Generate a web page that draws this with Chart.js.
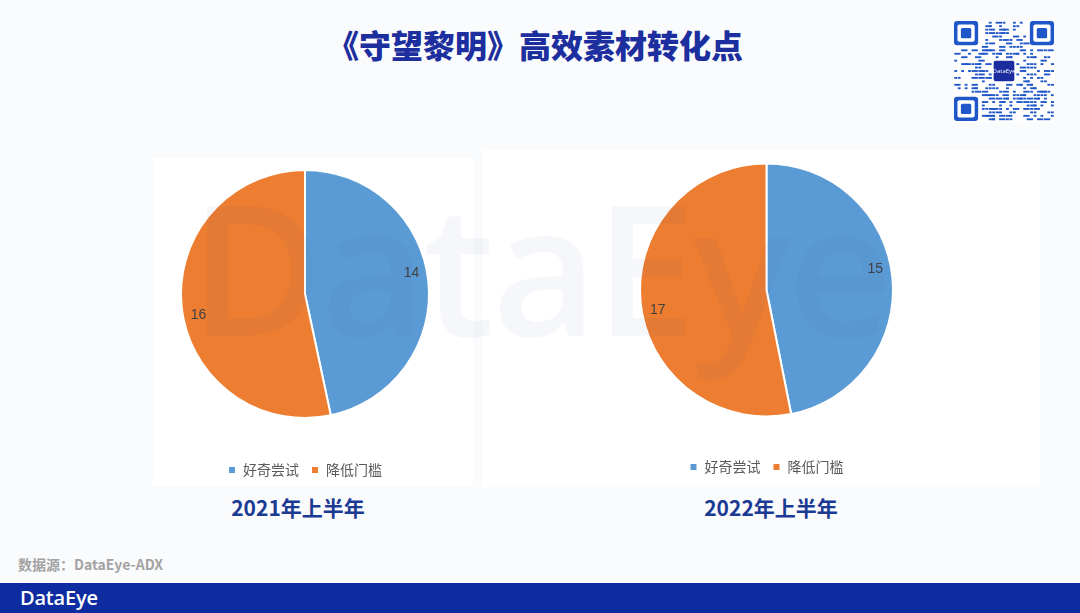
<!DOCTYPE html>
<html>
<head>
<meta charset="utf-8">
<script src="https://cdn.jsdelivr.net/npm/chart.js@4.4.0/dist/chart.umd.min.js"></script>
<style>
  html, body { margin:0; padding:0; }
  body { width:1080px; height:613px; position:relative; overflow:hidden; background:#fafbfc; font-family:"Noto Sans CJK SC","Noto Sans",sans-serif; }
  .abs { position:absolute; }
  #title { left:-5px; width:1080px; top:22px; text-align:center; font-size:32px; font-weight:900; color:#1d2f9e; line-height:44px; }
  .panel { background:#ffffff; }
  .sub { font-size:21px; font-weight:700; color:#1b3a94; text-align:center; line-height:30px; }
  #src { left:18px; top:554px; font-size:14px; font-weight:700; color:#a3a3a3; line-height:20px; }
  #bar { left:0; top:583px; width:1080px; height:30px; background:#0c2c9f; }
  #logo { left:20px; top:584px; font-family:"Open Sans",sans-serif; font-weight:600; font-size:20px; color:#fff; line-height:28px; letter-spacing:-0.2px; }
  #wm { left:190px; top:155px; font-family:"Open Sans",sans-serif; font-weight:600; font-size:182px; color:rgba(40,70,150,0.045); line-height:220px; letter-spacing:-3px; z-index:5; pointer-events:none; }
  canvas { position:absolute; }
</style>
</head>
<body>
<div id="title" class="abs">《守望黎明》高效素材转化点</div>
<canvas id="qr" width="100" height="102" style="left:954px;top:21px;"></canvas>

<div class="abs panel" style="left:153px;top:158px;width:320px;height:328px;"></div>
<div class="abs panel" style="left:483px;top:150px;width:557px;height:337px;"></div>

<canvas id="c1" style="left:153px;top:120px;width:320px;height:367px;" width="320" height="367"></canvas>
<canvas id="c2" style="left:483px;top:115px;width:557px;height:369px;" width="557" height="369"></canvas>

<div id="wm" class="abs">DataEye</div>

<div class="abs sub" style="left:198px;width:200px;top:492px;">2021年上半年</div>
<div class="abs sub" style="left:671px;width:200px;top:492px;">2022年上半年</div>

<div id="src" class="abs">数据源：DataEye-ADX</div>
<div id="bar" class="abs"></div>
<div id="logo" class="abs">DataEye</div>

<script>
// ---- data ----
const categories = ["好奇尝试", "降低门槛"];
const values2021 = [14, 16];
const values2022 = [15, 17];
const sliceColors = ["#5b9bd5", "#ed7d31"];

// ---- data label plugin (positions derived from arc geometry) ----
const pieLabels = {
  id: "pieLabels",
  afterDatasetsDraw(chart) {
    const ctx = chart.ctx;
    const meta = chart.getDatasetMeta(0);
    const data = chart.data.datasets[0].data;
    ctx.save();
    ctx.font = "14px 'Liberation Sans', Arial, sans-serif";
    ctx.fillStyle = "#404040";
    ctx.textAlign = "center";
    ctx.textBaseline = "middle";
    meta.data.forEach((arc, i) => {
      const p = arc.getProps(["x","y","startAngle","endAngle","outerRadius"], true);
      const mid = (p.startAngle + p.endAngle) / 2 - 5 * Math.PI / 180;
      const r = p.outerRadius * 0.875;
      ctx.fillText(String(data[i]), p.x + Math.cos(mid) * r, p.y + Math.sin(mid) * r);
    });
    ctx.restore();
  }
};

function makePie(id, values, padding) {
  return new Chart(document.getElementById(id), {
    type: "pie",
    data: {
      labels: categories,
      datasets: [{ data: values, backgroundColor: sliceColors, borderColor: "#ffffff", borderWidth: 2 }]
    },
    options: {
      responsive: false,
      animation: false,
      layout: { padding: padding },
      plugins: {
        legend: {
          position: "bottom",
          labels: {
            boxWidth: 8, boxHeight: 8, padding: 12,
            color: "#595959",
            font: { size: 14, family: "'Noto Sans CJK SC', sans-serif" }
          }
        },
        tooltip: { enabled: false }
      }
    },
    plugins: [pieLabels]
  });
}

makePie("c1", values2021, { top: 17, bottom: 0, left: 27, right: 43 });
makePie("c2", values2022, { top: 17, bottom: 0, left: 156, right: 146 });

// ---- decorative QR-like code ----
(function () {
  const c = document.getElementById("qr").getContext("2d");
  c.fillStyle = "#ffffff"; c.fillRect(0, 0, 100, 102);
  const blue = "#1f56c8";
  const n = 29, s = 100 / n;
  function finder(x, y) {
    c.fillStyle = blue;
    c.beginPath(); c.roundRect(x * s, y * s, 7 * s, 7 * s, 3); c.fill();
    c.fillStyle = "#fff";
    c.beginPath(); c.roundRect((x + 1) * s, (y + 1) * s, 5 * s, 5 * s, 2); c.fill();
    c.fillStyle = blue;
    c.beginPath(); c.roundRect((x + 2) * s, (y + 2) * s, 3 * s, 3 * s, 1.5); c.fill();
  }
  c.fillStyle = blue;
  for (let y = 0; y < n; y++) {
    for (let x = 0; x < n; x++) {
      const inF = (x < 8 && y < 8) || (x > n - 9 && y < 8) || (x < 8 && y > n - 9);
      const inC = x > 10 && x < 18 && y > 10 && y < 18;
      if (inF || inC) continue;
      const h = ((x * 73856093) ^ (y * 19349663) ^ (x * y * 83492791)) >>> 0;
      if (h % 7 < 3) c.fillRect(x * s + 0.3, y * s + 0.8, s * (h % 3 === 0 ? 2 : 1) - 0.6, s - 1.6);
    }
  }
  finder(0, 0); finder(n - 7, 0); finder(0, n - 7);
  c.fillStyle = "#1a2c9e";
  c.beginPath(); c.roundRect(11.5 * s, 11.5 * s, 6 * s, 6 * s, 2); c.fill();
  c.fillStyle = "#fff"; c.font = "6px 'Open Sans',sans-serif"; c.textAlign = "center"; c.textBaseline = "middle";
  c.fillText("DataEye", 14.5 * s, 14.5 * s);
})();
</script>
</body>
</html>
